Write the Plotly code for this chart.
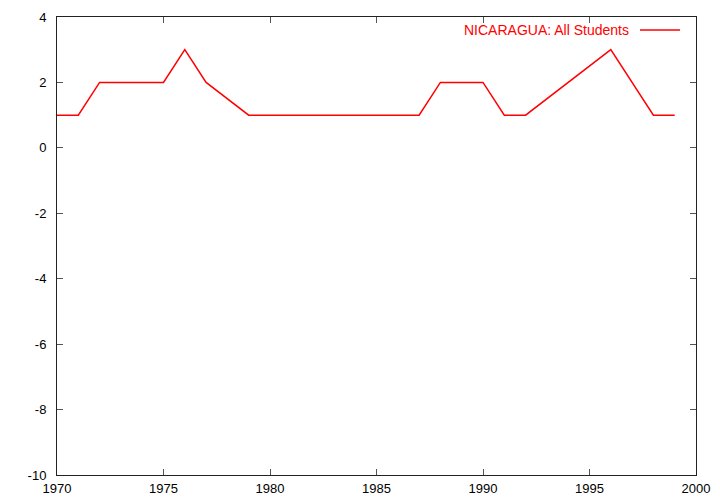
import plotly.graph_objects as go

years = [1970, 1971, 1972, 1975, 1976, 1977, 1979, 1987, 1988, 1990, 1991, 1992, 1996, 1998, 1999]
values = [1, 1, 2, 2, 3, 2, 1, 1, 2, 2, 1, 1, 3, 1, 1]
series_name = "NICARAGUA: All Students"
x_ticks = [1970, 1975, 1980, 1985, 1990, 1995, 2000]
y_ticks = [-10, -8, -6, -4, -2, 0, 2, 4]

fig = go.Figure()
fig.add_trace(go.Scatter(x=years, y=values, mode="lines", name=series_name,
                         line=dict(color="#ff0000", width=1.5), showlegend=False))

L, R, T, B = 57, 24, 17, 29
W, H = 720, 504
pw, ph = W - L - R, H - T - B

font = dict(family="Liberation Sans, Arial, sans-serif", size=13, color="#000000")
axis_common = dict(showgrid=False, zeroline=False, showline=True, linecolor="#222222",
                   linewidth=1, mirror="allticks", ticks="inside", ticklen=6,
                   tickcolor="#555555", tickwidth=1, automargin=False, tickfont=font)

fig.update_layout(
    width=W, height=H,
    margin=dict(l=L, r=R, t=T, b=B),
    plot_bgcolor="white", paper_bgcolor="white",
    xaxis=dict(range=[1970, 2000], tickvals=x_ticks, ticktext=[str(v) for v in x_ticks],
               ticklabelstandoff=1, **axis_common),
    yaxis=dict(range=[-10, 4], tickvals=y_ticks, ticktext=[str(v) for v in y_ticks],
               ticklabelstandoff=7, **axis_common),
)

# legend entry (gnuplot style: text then sample line)
ly = 1 - (30 - T) / ph
fig.add_annotation(xref="paper", yref="paper", x=(631 - L) / pw, y=ly, text=series_name,
                   showarrow=False, xanchor="right", yanchor="middle",
                   font=dict(family="Liberation Sans, Arial, sans-serif", size=14, color="#ff0000"))
fig.add_shape(type="line", xref="paper", yref="paper", x0=(640 - L) / pw, x1=(680 - L) / pw,
              y0=ly, y1=ly, line=dict(color="#ff0000", width=1.5))

fig.write_html("out.html", config={"displayModeBar": False},
               post_script="document.body.style.margin='0';document.body.style.overflow='hidden';")
